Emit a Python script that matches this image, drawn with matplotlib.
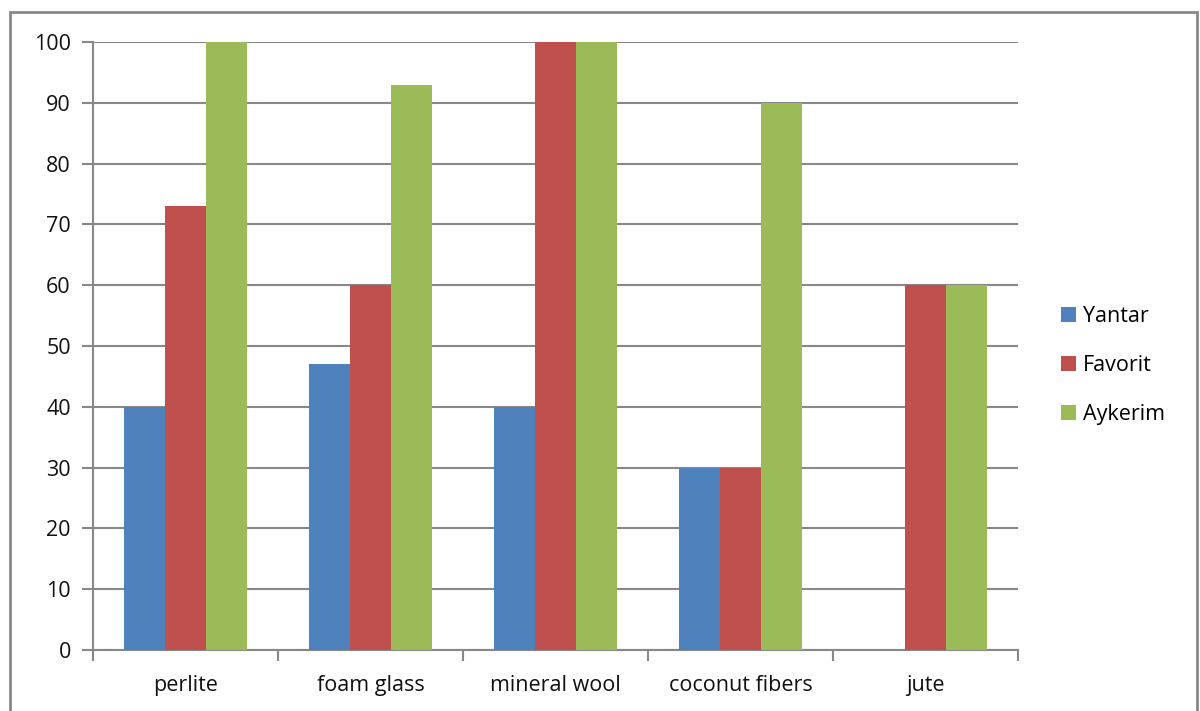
import matplotlib.pyplot as plt
import numpy as np
from matplotlib.patches import Rectangle

materials = ['perlite', 'foam glass', 'mineral wool', 'coconut fibers', 'jute']
yantar = [40, 47, 40, 30, 0]
favorit = [73, 60, 100, 30, 60]
aykerim = [100, 93, 100, 90, 60]

series = [('Yantar', yantar, '#4f81bd'),
          ('Favorit', favorit, '#c0504d'),
          ('Aykerim', aykerim, '#9bbb59')]

plt.rcParams['font.family'] = ['Open Sans', 'DejaVu Sans']
grey = '#888888'
fs = 15.5

fig = plt.figure(figsize=(12, 7.11), dpi=100)
ax = fig.add_axes([93 / 1200, 61 / 711, 925 / 1200, 608 / 711])

# outer chart frame (bottom edge runs off the canvas)
fig.patches.append(Rectangle((10 / 1200, -0.05), 1187 / 1200, 1.05 - 12 / 711,
                             transform=fig.transFigure, fill=False,
                             edgecolor=grey, linewidth=2))

N = np.arange(len(materials))
width = 0.222
handles = []
for i, (name, vals, color) in enumerate(series):
    b = ax.bar(N + (i - 1) * width, vals, width, color=color, edgecolor='none',
               zorder=3, label=name)
    handles.append(b)

ax.set_xlim(-0.5, len(materials) - 0.5)
ax.set_ylim(0, 100)
ax.set_yticks(range(0, 101, 10))
ax.set_xticks(N)
ax.set_xticklabels(materials)
ax.set_xticks(np.arange(-0.5, len(materials), 1), minor=True)

ax.yaxis.grid(True, color=grey, linewidth=1.5, zorder=0)
for s in ['top', 'right']:
    ax.spines[s].set_visible(False)
for s in ['left', 'bottom']:
    ax.spines[s].set_color(grey)
    ax.spines[s].set_linewidth(1.5)

ax.tick_params(axis='y', length=8, width=1.5, color=grey, labelsize=fs,
               labelcolor='#111111', pad=8)
ax.tick_params(axis='x', which='major', length=0, labelsize=fs,
               labelcolor='#111111', pad=18)
ax.tick_params(axis='x', which='minor', length=8, width=1.5, color=grey)

fig.legend(handles=handles, loc='upper left', bbox_to_anchor=(1052 / 1200, 1 - 297 / 711),
           frameon=False, fontsize=fs, handlelength=0.7, handleheight=0.7,
           handletextpad=0.35, labelspacing=1.3, borderaxespad=0)

fig.savefig('out.png', dpi=100)
